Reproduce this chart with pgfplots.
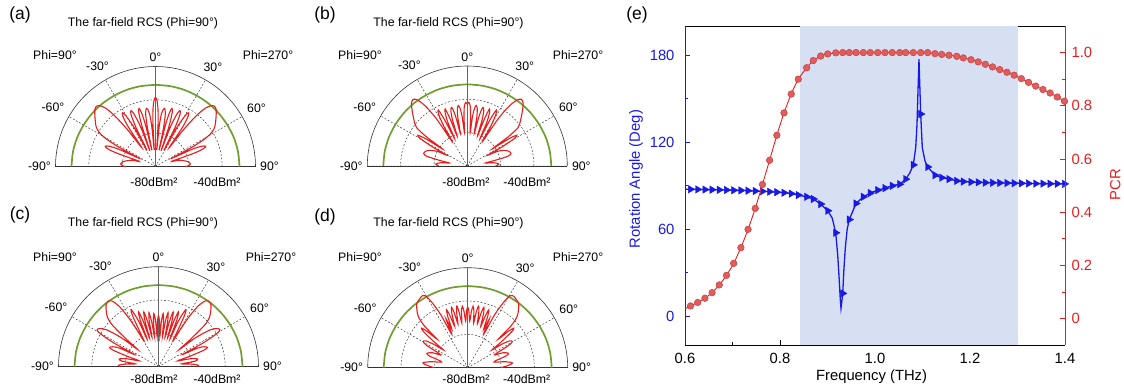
\documentclass[border=0pt]{standalone}
\usepackage{fontspec}
\setmainfont{Liberation Sans}
\usepackage{pgfplots}
\usepackage{pgfplotstable}
\pgfplotsset{compat=1.18}
\usepgfplotslibrary{polar}
\definecolor{bluec}{RGB}{25,25,230}
\definecolor{redc}{RGB}{232,30,30}
\definecolor{ballc}{RGB}{226,92,92}
\definecolor{balld}{RGB}{200,62,62}
\definecolor{greenc}{RGB}{112,158,46}
\definecolor{shade}{RGB}{214,224,242}
\newcommand\fa{\fontsize{12.3}{14}\selectfont}
\newcommand\fb{\fontsize{14.8}{17}\selectfont}
\newcommand\fp{\fontsize{17.5}{20}\selectfont}

% green reference level (theta, dBm^2), right half
\pgfplotstableread{
t v
0 -31.0
10 -31.0
20 -30.9
30 -30.8
40 -30.6
50 -30.4
60 -30.2
70 -29.9
80 -29.7
90 -29.6
}\greentab

\pgfplotstableread{
t v
0 -38.5
1.2 -40
2.4 -45
3.5 -55
4.3 -70
5.3 -56
6.5 -48
8.6 -44.7
10.5 -47.5
11.7 -56
12.5 -70
13.5 -55
14.5 -47
15.8 -43.8
17.2 -46
18.6 -55
19.6 -70
20.6 -55
22.2 -46
23.7 -43.4
25.2 -45.5
26.6 -54
27.6 -69
28.7 -54
30.2 -45
31.4 -42.2
33 -44
34.5 -51
36 -66
37.3 -52
38.8 -41
40.5 -34
42.5 -30.5
44.5 -29.4
47 -30.2
50 -32.5
53 -34.8
56 -37
58.5 -40
60.5 -45
62 -54
63.3 -69
64.8 -56
66.2 -50
68 -47.5
69.7 -49.5
71 -56
72.3 -70
74.5 -66
78 -63
82 -60
86 -59
88.5 -60
90 -62
}\rcsA

\pgfplotstableread{
t v
0 -43
1.4 -41.8
2.8 -44
3.8 -50
4.8 -60
6 -50
7.2 -45
8.4 -43.3
9.8 -45
11 -50
12 -60
13.2 -50
14.2 -45
15.2 -43.6
16.6 -45.5
17.8 -51
18.8 -61
20 -50
21.2 -43.3
22.6 -45.5
24 -51
25 -62
26.2 -49
27.4 -42.2
29 -44.5
30.5 -52
31.8 -63
33.2 -46
35 -36
37 -30.5
39 -28.5
41.5 -29.5
44.8 -33
48 -36.5
51 -39.5
53 -42
54.5 -50
55.5 -62
56.8 -50
58.2 -45
59.8 -47.5
61.2 -56
62.3 -66
64 -60
67 -56
70.5 -53.5
74 -52.8
76.5 -55
78.5 -63
80.5 -69
83 -64
86.5 -61
90 -63
}\rcsB

\pgfplotstableread{
t v
0 -49
1.4 -53
2.5 -62
3.6 -53
5 -48
6.4 -53
7.5 -62
8.6 -53
10 -47
11.4 -52
12.5 -62
13.6 -52
15 -46
16.4 -51
17.5 -62
18.6 -51
20 -45
21.4 -50
22.5 -62
23.6 -50
25.5 -42
27 -46
28.3 -58
29.5 -62
31 -48
33 -37
35.5 -31.5
38 -30.5
40.5 -31.5
43 -34
46 -37.5
48 -43
49.5 -55
50.5 -64
52 -52
54.5 -42
57 -38
59 -37
60.5 -40
62 -50
63 -64
64.5 -54
66.5 -50
68.5 -48.5
70 -51
71.5 -60
73 -68
76 -60
79 -56
81.5 -58
83 -66
85.5 -60
88 -56
90 -57
}\rcsC

\pgfplotstableread{
t v
0 -43.5
1.2 -46
2.5 -52
3.8 -46
5 -43
6.3 -46
7.5 -53
8.8 -46
10 -42.5
11.3 -46
12.5 -53
13.8 -46
15 -42.5
16.3 -46
17.5 -54
18.8 -47
20 -43
21.3 -47
22.5 -55
24 -48
25.5 -58
27 -44
28.8 -35
30.5 -30
32.7 -29
35.5 -29.8
38.4 -30.8
41 -33.5
44 -37.4
46 -44
47 -55
48.2 -47
49.4 -43.6
50.8 -46
52.5 -55
53.8 -62
55.5 -55
57.5 -50
59.6 -49
61.5 -52
63.5 -61
65 -62
67 -57
70.6 -54
73 -56
75.5 -62
78 -64
81 -57
84 -53
87 -56
90 -60
}\rcsD

% (e) marker points: frequency, rotation angle, PCR
\pgfplotstableread{
f ang pcr
0.6116 87.4 0.047
0.6267 87.3 0.060
0.6419 87.2 0.076
0.6570 87.1 0.097
0.6722 87.0 0.126
0.6873 86.9 0.162
0.7024 86.7 0.207
0.7176 86.6 0.266
0.7327 86.4 0.335
0.7479 86.2 0.414
0.7630 86.0 0.504
0.7781 85.7 0.595
0.7933 85.4 0.689
0.8084 85.0 0.773
0.8236 84.4 0.844
0.8385 83.4 0.900
0.8562 82.2 0.943
0.8701 80.7 0.970
0.8857 77.2 0.987
0.9004 72.6 0.995
0.9173 57.4 0.999
0.9320 15.6 1.000
0.9459 66.5 1.000
0.9600 77.6 1.000
0.9754 82.2 1.000
0.9901 84.8 1.000
1.0057 86.8 1.000
1.0211 88.2 1.000
1.0364 89.8 1.000
1.0520 90.9 1.000
1.0646 94.4 1.000
1.0806 104.2 1.000
1.0962 139.3 1.000
1.1109 102.8 1.000
1.1263 97.1 0.996
1.1404 95.4 0.993
1.1558 94.4 0.990
1.1720 93.2 0.986
1.1859 92.7 0.980
1.2021 92.4 0.973
1.2172 92.2 0.965
1.2323 92.0 0.956
1.2475 91.9 0.946
1.2626 91.8 0.936
1.2778 91.7 0.926
1.2929 91.6 0.915
1.3080 91.5 0.902
1.3232 91.4 0.888
1.3383 91.3 0.874
1.3535 91.3 0.861
1.3686 91.2 0.848
1.3837 91.2 0.833
1.3989 91.1 0.817
}\marks

\pgfplotstableread{
f ang
0.6000 87.5
0.6116 87.4
0.6267 87.3
0.6419 87.2
0.6570 87.1
0.6722 87.0
0.6873 86.9
0.7024 86.7
0.7176 86.6
0.7327 86.4
0.7479 86.2
0.7630 86.0
0.7781 85.7
0.7933 85.4
0.8084 85.0
0.8236 84.4
0.8385 83.4
0.8562 82.2
0.8701 80.7
0.8857 77.2
0.9004 72.6
0.9100 67.5
0.9173 57.4
0.9215 42
0.9245 26
0.9268 12
0.9284 5.3
0.9302 10
0.9320 15.6
0.9345 32
0.9375 47
0.9415 60
0.9459 66.5
0.9600 77.6
0.9754 82.2
0.9901 84.8
1.0057 86.8
1.0211 88.2
1.0364 89.8
1.0520 90.9
1.0646 94.4
1.0730 98.5
1.0806 104.2
1.0857 116
1.0884 132
1.0905 155
1.0926 177.2
1.0944 158
1.0962 139.3
1.0996 116
1.1053 106.9
1.1109 102.8
1.1263 97.1
1.1404 95.4
1.1558 94.4
1.1720 93.2
1.1859 92.7
1.2021 92.4
1.2172 92.2
1.2323 92.0
1.2475 91.9
1.2626 91.8
1.2778 91.7
1.2929 91.6
1.3080 91.5
1.3232 91.4
1.3383 91.3
1.3535 91.3
1.3686 91.2
1.3837 91.2
1.3989 91.1
1.4000 91.1
}\angline

\pgfplotstableread{
f pcr
0.6000 0.036
0.6116 0.047
0.6267 0.060
0.6419 0.076
0.6570 0.097
0.6722 0.126
0.6873 0.162
0.7024 0.207
0.7176 0.266
0.7327 0.335
0.7479 0.414
0.7630 0.504
0.7781 0.595
0.7933 0.689
0.8084 0.773
0.8236 0.844
0.8385 0.900
0.8562 0.943
0.8701 0.970
0.8857 0.987
0.9004 0.995
0.9173 0.999
0.9459 1.000
0.9901 1.000
1.0364 1.000
1.0806 1.000
1.1109 1.000
1.1263 0.996
1.1404 0.993
1.1558 0.990
1.1720 0.986
1.1859 0.980
1.2021 0.973
1.2172 0.965
1.2323 0.956
1.2475 0.946
1.2626 0.936
1.2778 0.926
1.2929 0.915
1.3080 0.902
1.3232 0.888
1.3383 0.874
1.3535 0.861
1.3686 0.848
1.3837 0.833
1.3989 0.817
1.4000 0.815
}\pcrline

\pgfplotsset{rcs/.style={
  scale only axis, width=200pt, height=200pt,
  xmin=0, xmax=180, ymin=0, ymax=60,
  xtick={0,30,...,180},
  xticklabels={90°,60°,30°,0°,-30°,-60°,-90°},
  ytick={20,40}, yticklabel=\empty,
  grid=major,
  major grid style={black!85, line width=0.45pt, dash pattern=on 1.8pt off 1.8pt},
  axis line style={black!80, line width=0.6pt},
  xtick style={draw=none}, ytick style={draw=none},
  ticklabel style={font=\fa},
  xticklabel style={inner sep=4.5pt},
  anchor=south, clip=false,
}}

\newcommand\rcspanel[1]{%
  \addplot[greenc, line width=1.7pt, smooth] table[x expr=90-\thisrowno{0}, y expr=\thisrowno{1}+80] {\greentab};
  \addplot[greenc, line width=1.7pt, smooth] table[x expr=90+\thisrowno{0}, y expr=\thisrowno{1}+80] {\greentab};
  \addplot[black!60, line width=0.7pt] coordinates {(90,0) (90,60)};
  \addplot[redc, line width=1.1pt, smooth, tension=0.5] table[x expr=90-\thisrowno{0}, y expr=\thisrowno{1}+80] {#1};
  \addplot[redc, line width=1.1pt, smooth, tension=0.5] table[x expr=90+\thisrowno{0}, y expr=\thisrowno{1}+80] {#1};
}

\begin{document}
\begin{tikzpicture}
\useasboundingbox (0pt,0pt) rectangle (1124pt,389pt);

\begin{polaraxis}[rcs, at={(155.5pt,222.5pt)}]
\rcspanel{\rcsA}
\end{polaraxis}
\begin{polaraxis}[rcs, at={(467.3pt,223pt)}]
\rcspanel{\rcsB}
\end{polaraxis}
\begin{polaraxis}[rcs, at={(158.5pt,22.3pt)}]
\rcspanel{\rcsC}
\end{polaraxis}
\begin{polaraxis}[rcs, at={(467.7pt,21.3pt)}]
\rcspanel{\rcsD}
\end{polaraxis}

% panel texts
\foreach \px/\py/\tx/\ty/\lab in {20/374/143/365.7/(a), 325/374/448.5/365.7/(b), 20/174/143/165.7/(c), 325/172/448.5/165.7/(d)}{
  \node[font=\fp] at (\px pt,\py pt) {\lab};
  \node[font=\fa] at (\tx pt,\ty pt) {The far-field RCS (Phi=90°)};
}
\foreach \x/\y in {55/334, 360/334, 55/132.3, 360/132.3}{
  \node[font=\fa] at (\x pt,\y pt) {Phi=90°};
}
\foreach \x/\y in {268/334, 578/334, 271/132.3, 578/132.3}{
  \node[font=\fa] at (\x pt,\y pt) {Phi=270°};
}
\foreach \x/\y/\xx in {154/207/217, 466/207/527, 154/9.7/217, 466/9.7/526.7}{
  \node[font=\fa] at (\x pt,\y pt) {-80dBm²};
  \node[font=\fa] at (\xx pt,\y pt) {-40dBm²};
}

% panel (e)
\begin{axis}[
  scale only axis, width=380pt, height=319pt,
  at={(685pt,44pt)}, anchor=south west,
  xmin=0.6, xmax=1.4, ymin=-20, ymax=200,
  xtick={0.6,0.8,1.0,1.2,1.4}, xticklabels={0.6,0.8,1.0,1.2,1.4},
  minor xtick={0.7,0.9,1.1,1.3},
  ytick={0,60,120,180}, yticklabels={0,60,120,180},
  minor ytick={30,90,150},
  tick align=inside, xtick pos=left, ytick pos=left,
  major tick length=5pt, minor tick length=3pt,
  separate axis lines,
  x axis line style={black, line width=0.8pt},
  y axis line style={bluec, line width=0.8pt},
  xtick style={black, line width=0.6pt}, ytick style={bluec, line width=0.6pt},
  xticklabel style={font=\fb, yshift=-5pt},
  yticklabel style={font=\fb, text=bluec, xshift=-7pt},
  xlabel={Frequency (THz)}, ylabel={Rotation Angle (Deg)},
  xlabel style={font=\fb, at={(axis description cs:0.491,-0.099)}, anchor=center},
  ylabel style={font=\fb, text=bluec, at={(axis description cs:-0.129,0.52)}, anchor=center},
]
\addplot[fill=shade, draw=none] coordinates {(0.843,-20) (1.30,-20) (1.30,200) (0.843,200)} -- cycle;
\addplot[bluec, line width=1.3pt] table[x=f, y=ang] {\angline};
\addplot[bluec, only marks, mark=triangle*, mark size=4.3pt, mark options={rotate=-90, fill=bluec, draw=bluec}] table[x=f, y=ang] {\marks};
\end{axis}
\begin{axis}[
  scale only axis, width=380pt, height=319pt,
  at={(685pt,44pt)}, anchor=south west,
  xmin=0.6, xmax=1.4, ymin=-0.1, ymax=1.1,
  axis x line=none, axis y line*=right,
  ytick={0,0.2,0.4,0.6,0.8,1.0}, yticklabels={0,0.2,0.4,0.6,0.8,1.0},
  minor ytick={0.1,0.3,0.5,0.7,0.9},
  tick align=inside,
  major tick length=5pt, minor tick length=3pt,
  y axis line style={redc, line width=0.8pt},
  ytick style={redc, line width=0.6pt},
  yticklabel style={font=\fb, text=redc, xshift=3pt},
  ylabel={PCR},
  ylabel style={font=\fb, text=redc, at={(axis description cs:1.132,0.502)}, anchor=center, rotate=0},
]
\addplot[redc, line width=0.9pt, smooth, tension=0.4] table[x=f, y=pcr] {\pcrline};
\addplot[only marks, mark=*, mark size=3.3pt, mark options={fill=ballc, draw=balld, line width=0.5pt}] table[x=f, y=pcr] {\marks};
\end{axis}
\node[font=\fp] at (637pt,374pt) {(e)};
\end{tikzpicture}
\end{document}
